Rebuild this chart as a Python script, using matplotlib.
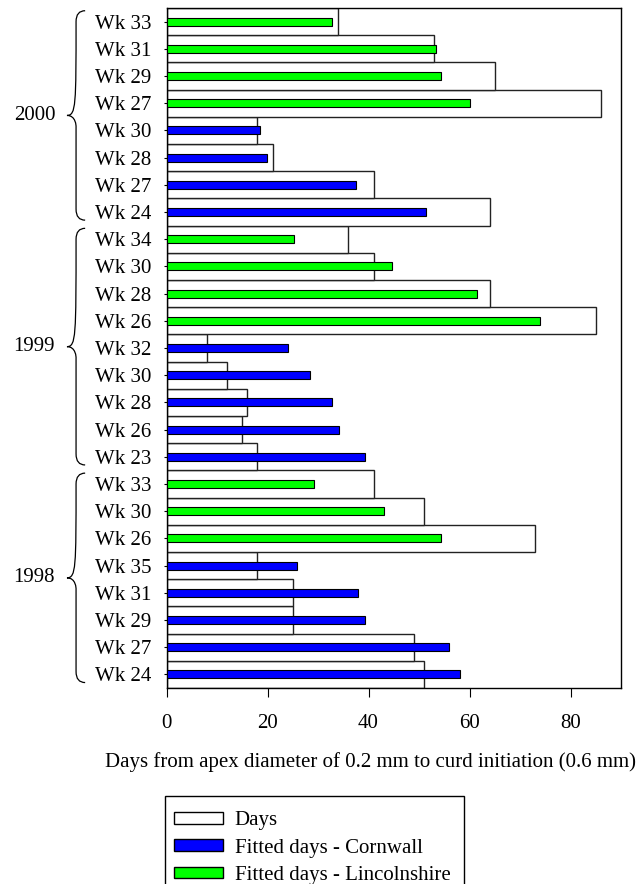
import matplotlib
matplotlib.use("Agg")
import matplotlib.pyplot as plt
from matplotlib.patches import Patch, PathPatch, Rectangle
from matplotlib.path import Path
import matplotlib.transforms as mtransforms

plt.rcParams['font.family'] = ['Liberation Serif', 'DejaVu Serif']

# bottom to top
week_labels = ["Wk 24", "Wk 27", "Wk 29", "Wk 31", "Wk 35", "Wk 26", "Wk 30", "Wk 33",
               "Wk 23", "Wk 26", "Wk 28", "Wk 30", "Wk 32", "Wk 26", "Wk 28", "Wk 30", "Wk 34",
               "Wk 24", "Wk 27", "Wk 28", "Wk 30", "Wk 27", "Wk 29", "Wk 31", "Wk 33"]
days = [51, 49, 25, 25, 18, 73, 51, 41,
        18, 15, 16, 12, 8, 85, 64, 41, 36,
        64, 41, 21, 18, 86, 65, 53, 34]
fitted = [58.2, 56.0, 39.3, 37.9, 25.9, 54.4, 43.1, 29.3,
          39.3, 34.1, 32.7, 28.4, 24.1, 73.9, 61.4, 44.6, 25.3,
          51.4, 37.5, 19.9, 18.6, 60.1, 54.3, 53.4, 32.7]
region = (["Cornwall"] * 5 + ["Lincolnshire"] * 3 +
          ["Cornwall"] * 5 + ["Lincolnshire"] * 4 +
          ["Cornwall"] * 4 + ["Lincolnshire"] * 4)
years = ["1998", "1999", "2000"]
group_sizes = [8, 9, 8]
region_colors = {"Cornwall": "#0000ff", "Lincolnshire": "#00ff00"}

fig = plt.figure(figsize=(6.42, 8.84), dpi=100)
ax = fig.add_axes([166.5 / 642, 1 - 688 / 884, 454.5 / 642, 680 / 884])

y = list(range(len(week_labels)))
ax.barh(y, days, height=1.0, color="white", edgecolor="#222222", linewidth=1.0, zorder=2)
ax.barh(y, fitted, height=0.3, color=[region_colors[r] for r in region],
        edgecolor="black", linewidth=0.8, zorder=3)

ax.set_xlim(0, 90)
ax.set_ylim(-0.5, len(y) - 0.5)
ax.set_xticks([0, 20, 40, 60, 80])
ax.set_yticks(y)
ax.set_yticklabels(week_labels)
ax.tick_params(axis='y', direction='out', length=2.2, pad=8.5, labelsize=15)
ax.tick_params(axis='x', direction='out', length=6.5, pad=12, labelsize=15)
ax.set_xlabel("Days from apex diameter of 0.2 mm to curd initiation (0.6 mm)", fontsize=15)
ax.xaxis.set_label_coords(0.448, -0.094)
for s in ax.spines.values():
    s.set_linewidth(1.0)

# curly braces for the years
trans = mtransforms.blended_transform_factory(ax.transAxes, ax.transData)
xr, xm, xt = -0.179, -0.199, -0.219
start = 0
for yr, n in zip(years, group_sizes):
    y0 = start - 0.3
    y1 = start + n - 0.6
    ym = (y0 + y1) / 2
    d = 0.4
    verts = [(xr, y1), (xm, y1), (xm, y1 - d), (xm, y1 - d),
             (xm, ym + d), (xm, ym), (xt, ym), (xt, ym),
             (xm, ym), (xm, ym - d), (xm, ym - d),
             (xm, y0 + d), (xm, y0 + d), (xm, y0), (xr, y0)]
    codes = [Path.MOVETO, Path.CURVE3, Path.CURVE3, Path.LINETO,
             Path.CURVE4, Path.CURVE4, Path.CURVE4, Path.MOVETO,
             Path.CURVE4, Path.CURVE4, Path.CURVE4,
             Path.LINETO, Path.MOVETO, Path.CURVE3, Path.CURVE3]
    ax.add_patch(PathPatch(Path(verts, codes), transform=trans, facecolor="none",
                           edgecolor="black", linewidth=0.9, clip_on=False))
    ax.text(-0.245, ym, yr, transform=trans, ha="right", va="center", fontsize=15)
    start += n

handles = [Patch(facecolor="white", edgecolor="black", label="Days"),
           Patch(facecolor=region_colors["Cornwall"], edgecolor="black",
                 label="Fitted days - Cornwall"),
           Patch(facecolor=region_colors["Lincolnshire"], edgecolor="black",
                 label="Fitted days - Lincolnshire")]
fig.legend(handles=handles, loc="upper left",
           bbox_to_anchor=(164.8 / 642, 1 - 802 / 884),
           fontsize=15, frameon=False, handlelength=2.35,
           handleheight=0.45, labelspacing=0.39, borderpad=0.45, handletextpad=0.55,
           borderaxespad=0)
# legend box runs off the bottom of the figure, as in the original
fig.patches.append(Rectangle((164.8 / 642, -0.05), (464 - 164.8) / 642, 1 - 795.5 / 884 + 0.05,
                             transform=fig.transFigure, facecolor="none",
                             edgecolor="black", linewidth=1.0))

fig.savefig("out.png", dpi=100)
